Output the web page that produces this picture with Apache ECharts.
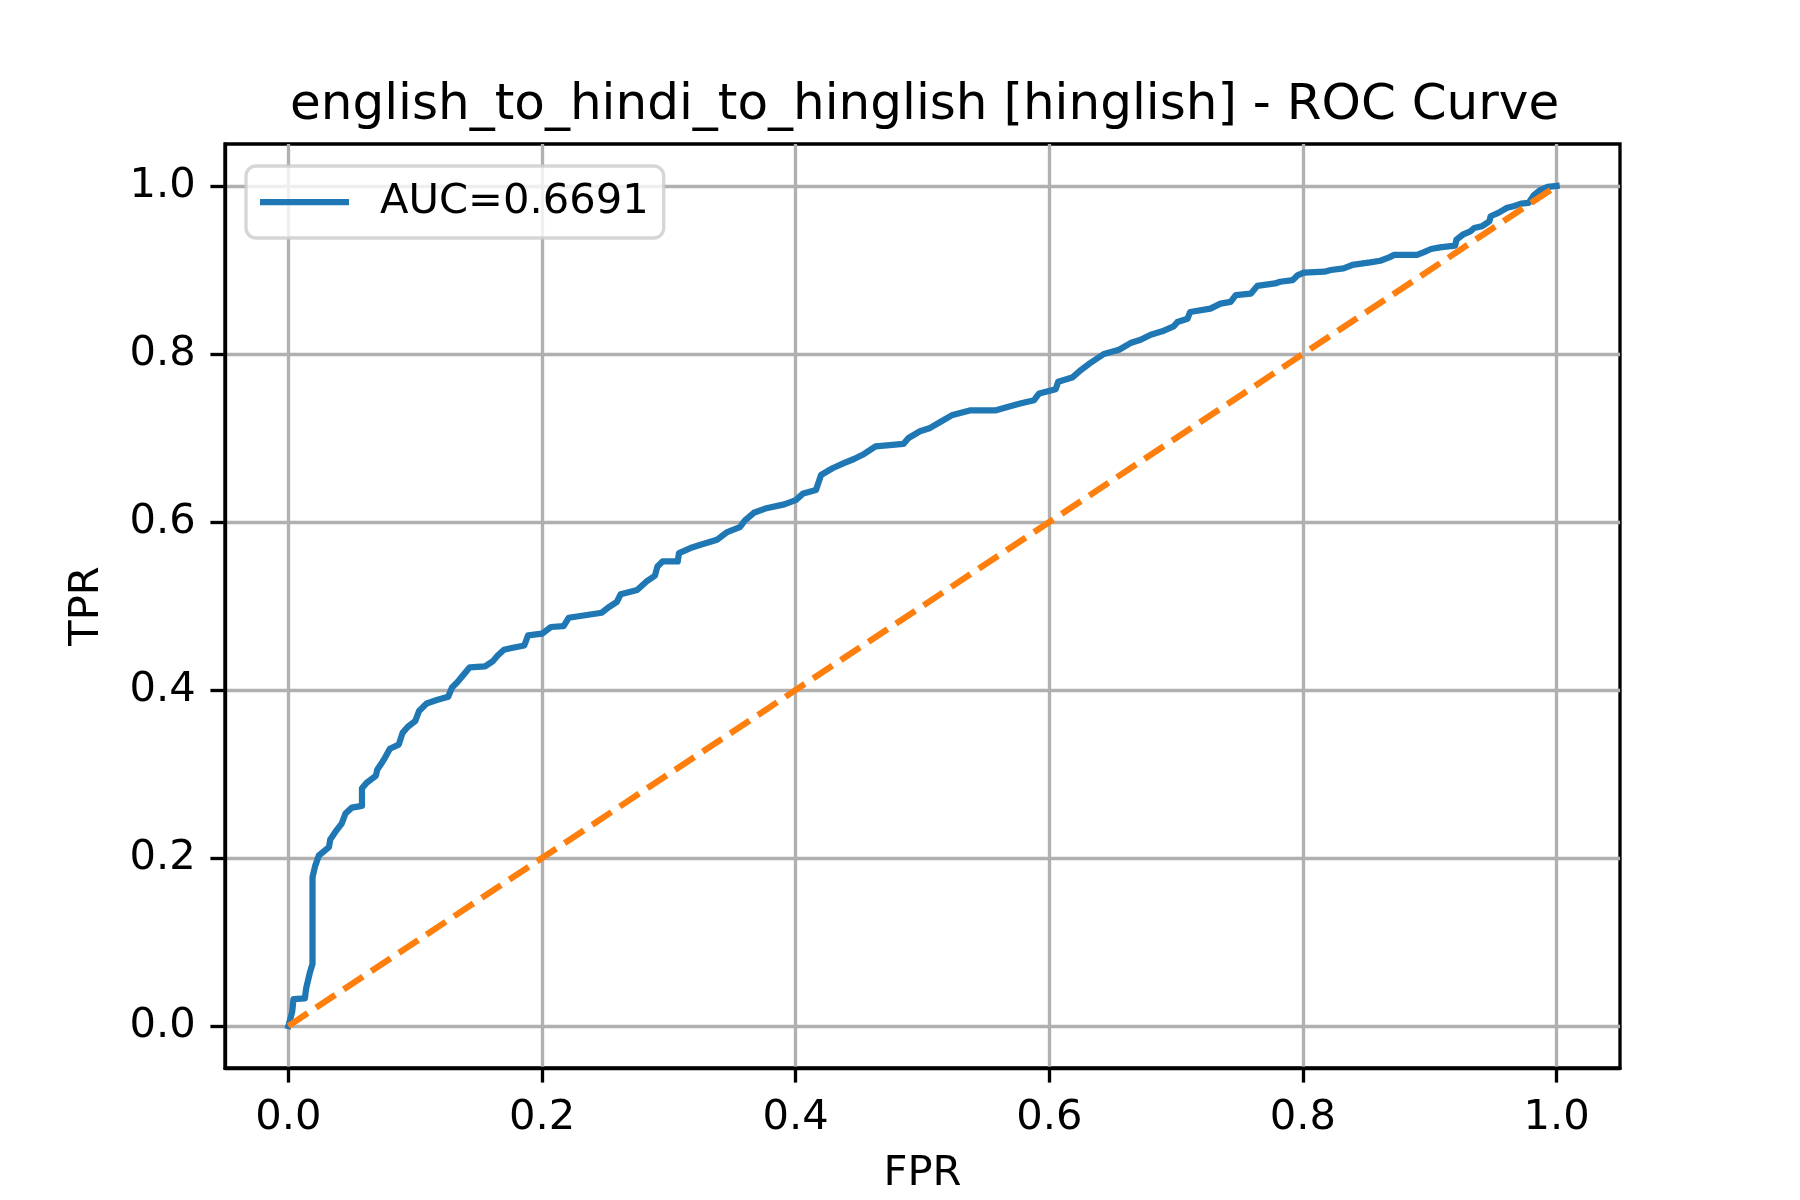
<!DOCTYPE html>
<html>
<head>
<meta charset="utf-8">
<script src="https://cdn.jsdelivr.net/npm/echarts@6/dist/echarts.min.js"></script>
<style>
html,body{margin:0;padding:0;background:#fff;}
#chart{width:1800px;height:1200px;}
</style>
</head>
<body>
<div id="chart"></div>
<script>
const titleText = 'english_to_hindi_to_hinglish [hinglish] - ROC Curve';
const legendLabel = 'AUC=0.6691';
const tickValues = [0, 0.2, 0.4, 0.6, 0.8, 1.0];
const fpr = [0,0.003,0.004,0.013,0.014,0.017,0.019,0.019,0.021,0.024,0.032,0.033,0.037,0.042,0.045,0.050,0.058,0.058,0.062,0.069,0.070,0.074,0.076,0.080,0.087,0.090,0.094,0.100,0.103,0.109,0.117,0.126,0.129,0.133,0.138,0.143,0.155,0.161,0.165,0.170,0.176,0.186,0.189,0.200,0.207,0.217,0.221,0.234,0.247,0.253,0.259,0.262,0.275,0.283,0.289,0.291,0.295,0.307,0.308,0.317,0.325,0.338,0.346,0.356,0.360,0.367,0.376,0.391,0.400,0.406,0.416,0.420,0.429,0.438,0.446,0.454,0.463,0.485,0.489,0.498,0.506,0.514,0.523,0.538,0.558,0.567,0.577,0.588,0.592,0.605,0.607,0.618,0.625,0.632,0.643,0.655,0.664,0.672,0.680,0.689,0.698,0.701,0.709,0.711,0.727,0.735,0.743,0.747,0.759,0.764,0.778,0.782,0.792,0.796,0.801,0.817,0.822,0.832,0.839,0.853,0.861,0.868,0.872,0.890,0.895,0.901,0.908,0.920,0.921,0.926,0.932,0.935,0.941,0.947,0.948,0.954,0.961,0.966,0.972,0.978,0.982,0.987,0.993,1.0];
const tpr = [0,0.017,0.032,0.033,0.045,0.064,0.074,0.177,0.190,0.203,0.213,0.222,0.231,0.241,0.253,0.260,0.262,0.283,0.290,0.298,0.305,0.314,0.319,0.330,0.335,0.349,0.356,0.363,0.375,0.384,0.388,0.392,0.403,0.409,0.418,0.427,0.428,0.434,0.441,0.448,0.450,0.453,0.465,0.467,0.475,0.476,0.486,0.489,0.492,0.499,0.505,0.514,0.519,0.530,0.536,0.547,0.553,0.553,0.563,0.569,0.573,0.579,0.588,0.594,0.602,0.611,0.616,0.621,0.626,0.634,0.638,0.656,0.664,0.670,0.675,0.681,0.690,0.693,0.700,0.708,0.712,0.719,0.727,0.733,0.733,0.737,0.741,0.745,0.753,0.758,0.767,0.772,0.781,0.789,0.800,0.805,0.813,0.817,0.823,0.827,0.833,0.838,0.842,0.850,0.854,0.860,0.862,0.870,0.872,0.881,0.884,0.886,0.888,0.894,0.897,0.898,0.900,0.902,0.906,0.909,0.911,0.915,0.918,0.918,0.921,0.925,0.927,0.929,0.936,0.942,0.946,0.950,0.952,0.958,0.964,0.968,0.974,0.976,0.979,0.980,0.989,0.995,0.999,1.0];
const chanceX = [0, 1];
const chanceY = [0, 1];

const rocData = fpr.map((x, i) => [x, tpr[i]]);
const chanceData = chanceX.map((x, i) => [x, chanceY[i]]);

const FONT = 'DejaVu Sans';
const PT = 300 / 72;
const fmt = v => Number(v).toFixed(1);

const axisCommon = {
  type: 'value',
  min: -0.05,
  max: 1.05,
  axisLine: { show: true, onZero: false, lineStyle: { color: '#000', width: 0.8 * PT } },
  axisTick: { show: true, inside: false, length: 3.5 * PT, customValues: tickValues,
              lineStyle: { color: '#000', width: 0.8 * PT } },
  axisLabel: { show: true, customValues: tickValues, formatter: fmt, margin: 7 * PT,
               fontFamily: FONT, fontSize: 10 * PT, color: '#000' },
  splitLine: { show: true, lineStyle: { color: '#b0b0b0', width: 0.8 * PT } },
  nameTextStyle: { fontFamily: FONT, fontSize: 10 * PT, color: '#000' }
};

const chart = echarts.init(document.getElementById('chart'), null, { renderer: 'canvas' });
chart.setOption({
  animation: false,
  backgroundColor: '#fff',
  title: {
    text: titleText,
    left: 290,
    top: 81,
    padding: 0,
    textStyle: { fontFamily: FONT, fontSize: 12 * PT, fontWeight: 'normal', color: '#000', lineHeight: 12 * PT }
  },
  grid: { left: 225, right: 180, top: 144, bottom: 132, show: true,
          borderColor: '#000', borderWidth: 0.8 * PT, backgroundColor: 'transparent' },
  legend: {
    left: 246, top: 166,
    orient: 'vertical',
    data: [{ name: legendLabel, icon: 'rect' }],
    itemWidth: 89, itemHeight: 1.5 * PT,
    padding: [15, 15, 15, 14],
    backgroundColor: 'rgba(255,255,255,0.8)',
    borderColor: 'rgba(204,204,204,0.8)',
    borderWidth: 0.8 * PT,
    borderRadius: 10,
    textStyle: { fontFamily: FONT, fontSize: 10 * PT, color: '#000', padding: [0, 0, 0, 26] }
  },
  xAxis: Object.assign({}, axisCommon, {
    position: 'bottom',
    name: 'FPR', nameLocation: 'middle', nameGap: 85
  }),
  yAxis: Object.assign({}, axisCommon, {
    position: 'left',
    name: 'TPR', nameLocation: 'middle', nameGap: 117, nameRotate: 90
  }),
  series: [
    {
      name: legendLabel,
      type: 'line',
      data: rocData,
      showSymbol: false,
      symbol: 'none',
      clip: true,
      lineStyle: { color: '#1f77b4', width: 1.5 * PT, join: 'round', cap: 'square' },
      itemStyle: { color: '#1f77b4' },
      z: 3
    },
    {
      name: 'chance',
      type: 'line',
      data: chanceData,
      showSymbol: false,
      symbol: 'none',
      clip: true,
      lineStyle: { color: '#ff7f0e', width: 1.5 * PT, type: [5.55 * PT, 2.4 * PT], cap: 'butt' },
      itemStyle: { color: '#ff7f0e' },
      z: 4
    }
  ]
});
</script>
</body>
</html>
